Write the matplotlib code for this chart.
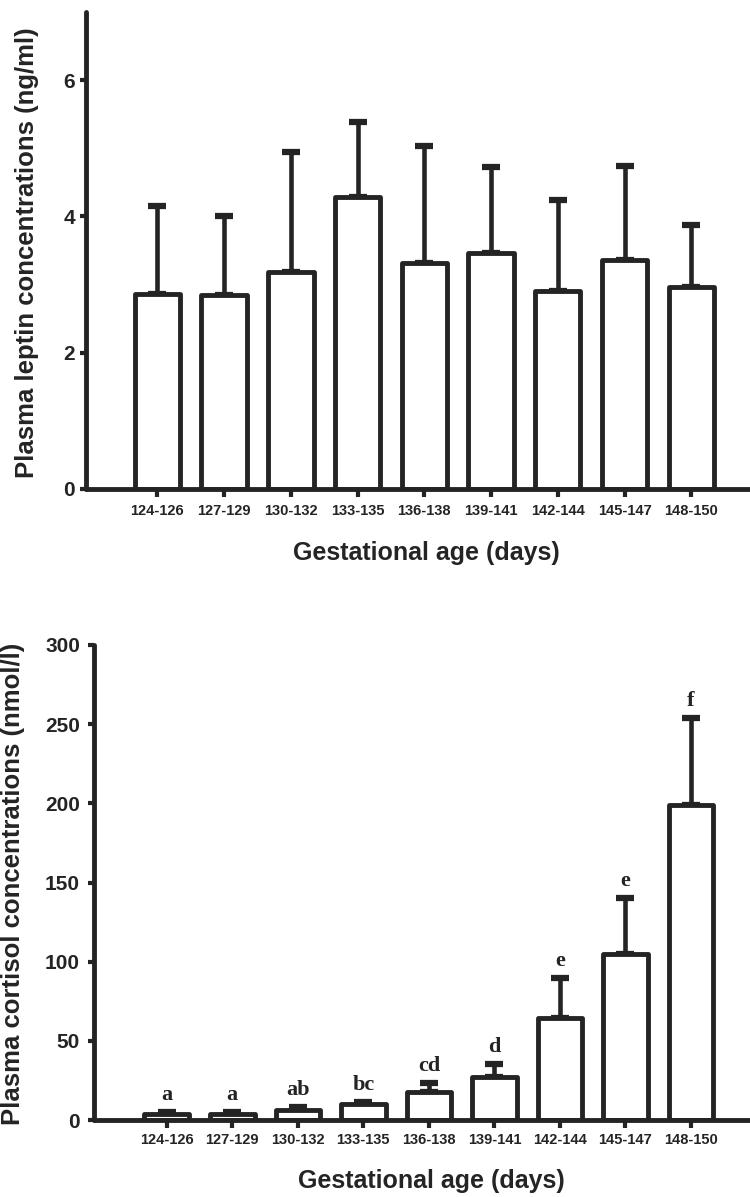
import matplotlib
matplotlib.use("Agg")
import matplotlib.pyplot as plt
import numpy as np

# Gestational age groups (days)
age_groups = ["124-126", "127-129", "130-132", "133-135", "136-138",
              "139-141", "142-144", "145-147", "148-150"]

# Plasma leptin (ng/ml): mean and upper SEM
leptin_mean = [2.86, 2.85, 3.18, 4.29, 3.32, 3.47, 2.91, 3.36, 2.97]
leptin_sem = [1.29, 1.15, 1.77, 1.10, 1.71, 1.25, 1.33, 1.38, 0.91]

# Plasma cortisol (nmol/l): mean, upper SEM and significance letters
cortisol_mean = [4.0, 4.0, 6.5, 10.0, 17.6, 27.0, 64.3, 104.8, 198.8]
cortisol_sem = [1.0, 1.0, 1.8, 1.5, 5.8, 8.4, 25.6, 35.7, 55.2]
cortisol_letters = ["a", "a", "ab", "bc", "cd", "d", "e", "e", "f"]

INK = "#242424"
SANS = ["Liberation Sans", "DejaVu Sans"]
SERIF = ["Liberation Serif", "DejaVu Serif"]

plt.rcParams["font.family"] = SANS
plt.rcParams["font.weight"] = "bold"

W, H = 750, 1197
fig = plt.figure(figsize=(W / 100, H / 100), dpi=100)
fig.patch.set_facecolor("white")


def draw_panel(ax, means, sems, yticks, ylim, xlim, xpad, ypad):
    x = np.arange(len(means))
    bars = ax.bar(x, means, width=0.68, color="white", edgecolor=INK,
                  linewidth=3.5, zorder=2)
    for b in bars:
        b.set_joinstyle("round")
    _, caps, lines = ax.errorbar(x, means,
                                 yerr=[np.zeros(len(sems)), sems],
                                 fmt="none", ecolor=INK, elinewidth=3.3,
                                 capsize=6.5, capthick=4.5, zorder=1)
    for c in caps:
        c.set_solid_capstyle("round")
    ax.set_xlim(*xlim)
    ax.set_ylim(*ylim)
    ax.set_xticks(x)
    ax.set_xticklabels(age_groups, fontsize=10.5, fontweight="bold",
                       color=INK)
    ax.set_yticks(yticks)
    ax.set_yticklabels([str(t) for t in yticks], fontsize=15,
                       fontweight="bold", color=INK)
    for side in ("top", "right"):
        ax.spines[side].set_visible(False)
    for side in ("left", "bottom"):
        ax.spines[side].set_linewidth(3.5)
        ax.spines[side].set_color(INK)
        ax.spines[side].set_capstyle("round")
    ax.tick_params(axis="x", direction="out", length=6, width=3,
                   color=INK, pad=xpad)
    ax.tick_params(axis="y", direction="out", length=4, width=3,
                   color=INK, pad=ypad)
    ax.set_facecolor("none")


# Upper panel: leptin
ax1 = fig.add_axes([86 / W, 1 - 489 / H, 1 - 86 / W, (489 - 12) / H])
draw_panel(ax1, leptin_mean, leptin_sem, [0, 2, 4, 6], (0, 7.0),
           (-1.07, 8.88), xpad=5, ypad=4)

# Lower panel: cortisol
ax2 = fig.add_axes([94 / W, 1 - 1120 / H, 1 - 94 / W, (1120 - 645) / H])
draw_panel(ax2, cortisol_mean, cortisol_sem, [0, 50, 100, 150, 200, 250, 300],
           (0, 300), (-1.11, 8.9), xpad=3.5, ypad=6)

for i, (m, s, lab) in enumerate(zip(cortisol_mean, cortisol_sem,
                                    cortisol_letters)):
    ax2.annotate(lab, xy=(i, m + s), xytext=(0, 8.5),
                 textcoords="offset points", ha="center", va="baseline",
                 fontsize=16, fontweight="bold", family=SERIF, color=INK)

# Axis titles
fig.text(426 / W, 1 - 553 / H, "Gestational age (days)", ha="center",
         va="center", fontsize=18, fontweight="bold", color=INK)
fig.text(431 / W, 1 - 1181 / H, "Gestational age (days)", ha="center",
         va="center", fontsize=18, fontweight="bold", color=INK)
fig.text(27.5 / W, 1 - 253 / H, "Plasma leptin concentrations (ng/ml)",
         ha="center", va="center", rotation=90, fontsize=18.5,
         fontweight="bold", color=INK)
fig.text(13 / W, 1 - 884 / H, "Plasma cortisol concentrations (nmol/l)",
         ha="center", va="center", rotation=90, fontsize=18.5,
         fontweight="bold", color=INK)

fig.savefig("out.png", dpi=100, facecolor="white")
